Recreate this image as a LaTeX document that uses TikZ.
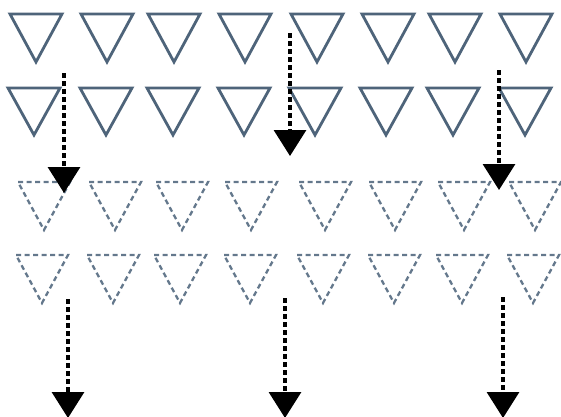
\documentclass[tikz,border=0pt]{standalone}
\usetikzlibrary{arrows.meta}
\definecolor{solidtri}{RGB}{78,100,122}
\definecolor{dashtri}{RGB}{100,120,140}
\tikzset{
  soltri/.style={draw=solidtri,line width=2.8pt,line join=miter},
  dashtriangle/.style={draw=dashtri,line width=2.3pt,dash pattern=on 5pt off 3.5pt},
  dotarrow/.style={black,line width=3.2pt,dash pattern=on 4.5pt off 3.5pt,
     -{Triangle[width=32pt,length=26pt]}}
}
\begin{document}
\begin{tikzpicture}[x=1pt,y=-1pt]
\useasboundingbox (0,0) rectangle (561,416);
% solid rows
\foreach \cx in {36,107,174,245,317,388,455,526}{
  \draw[soltri] (\cx-26,14) -- (\cx+26,14) -- (\cx,62) -- cycle;
}
\foreach \cx in {34,106,173,244,315,386,453,525}{
  \draw[soltri] (\cx-26,88) -- (\cx+26,88) -- (\cx,135) -- cycle;
}
% dashed rows
\foreach \cx in {44,115,182,251,325,395,464,535}{
  \draw[dashtriangle] (\cx-26,182) -- (\cx+26,182) -- (\cx,230) -- cycle;
}
\foreach \cx in {42,113,180,250,323,394,462,533}{
  \draw[dashtriangle] (\cx-26,255) -- (\cx+26,255) -- (\cx,303) -- cycle;
}
% arrows
\coordinate (a1s) at (64,73);  \coordinate (a1e) at (64,193);
\coordinate (a2s) at (290,33); \coordinate (a2e) at (290,156);
\coordinate (a3s) at (499,70); \coordinate (a3e) at (499,190);
\coordinate (a4s) at (68,299); \coordinate (a4e) at (68,418);
\coordinate (a5s) at (285,298); \coordinate (a5e) at (285,418);
\coordinate (a6s) at (503,297); \coordinate (a6e) at (503,418);
\draw[dotarrow] (a1s) -- (a1e);
\draw[dotarrow] (a2s) -- (a2e);
\draw[dotarrow] (a3s) -- (a3e);
\draw[dotarrow] (a4s) -- (a4e);
\draw[dotarrow] (a5s) -- (a5e);
\draw[dotarrow] (a6s) -- (a6e);
\end{tikzpicture}
\end{document}
